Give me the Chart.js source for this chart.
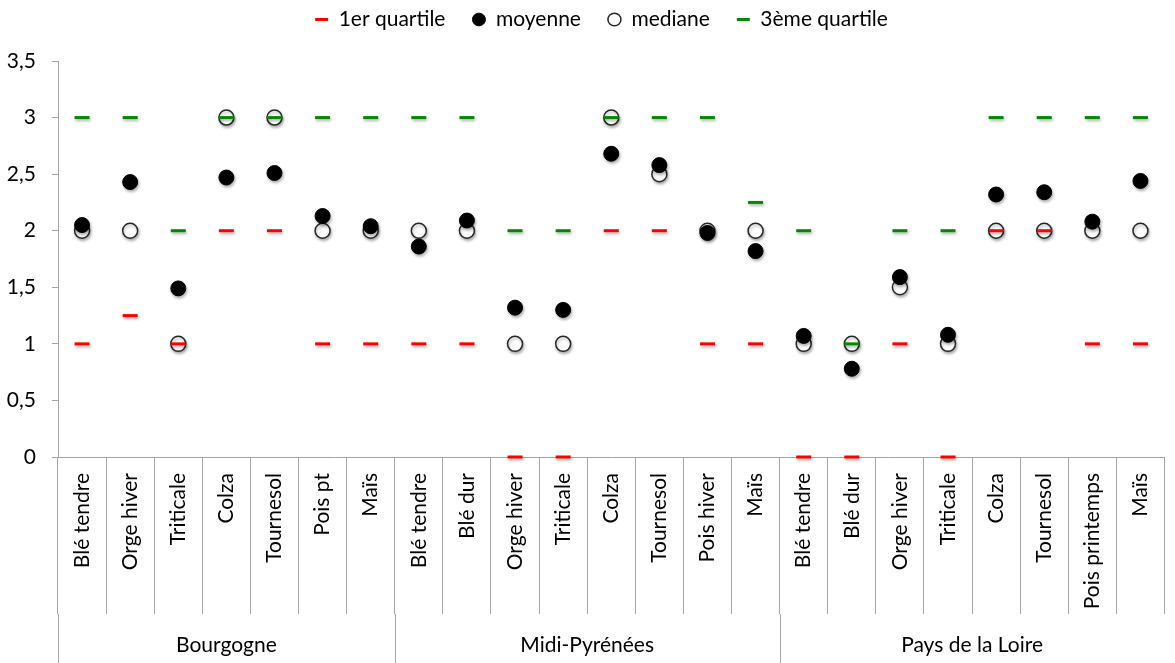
<!DOCTYPE html>
<html>
<head>
<meta charset="utf-8">
<script src="https://cdn.jsdelivr.net/npm/chart.js@4"></script>
<style>
  body { margin: 0; background: #fff; }
  canvas { display: block; }
</style>
</head>
<body>
<canvas id="quartileChart" width="1175" height="663"></canvas>
<script>
// categories and regions
const categories = [
    'Blé tendre', 'Orge hiver', 'Triticale', 'Colza', 'Tournesol', 'Pois pt', 'Maïs',
    'Blé tendre', 'Blé dur', 'Orge hiver', 'Triticale', 'Colza', 'Tournesol', 'Pois hiver', 'Maïs',
    'Blé tendre', 'Blé dur', 'Orge hiver', 'Triticale', 'Colza', 'Tournesol', 'Pois printemps', 'Maïs'
];
const groups = ['Bourgogne', 'Midi-Pyrénées', 'Pays de la Loire'];
const groupSizes = [7, 8, 8];

// series values
const q1 = [1, 1.25, 1, 2, 2, 1, 1, 1, 1, 0, 0, 2, 2, 1, 1, 0, 0, 1, 0, 2, 2, 1, 1];
const moyenne = [2.05, 2.43, 1.49, 2.47, 2.51, 2.13, 2.04, 1.86, 2.09, 1.32, 1.30, 2.68, 2.58, 1.98, 1.82, 1.07, 0.78, 1.59, 1.08, 2.32, 2.34, 2.08, 2.44];
const mediane = [2, 2, 1, 3, 3, 2, 2, 2, 2, 1, 1, 3, 2.5, 2, 2, 1, 1, 1.5, 1, 2, 2, 2, 2];
const q3 = [3, 3, 2, 3, 3, 3, 3, 3, 3, 2, 2, 3, 3, 3, 2.25, 2, 1, 2, 2, 3, 3, 3, 3];

const FONT = 'Lato';
const AXIS_GREY = '#a6a6a6';

const shadowPlugin = {
    id: 'markShadow',
    beforeDatasetDraw(chart) {
        const ctx = chart.ctx;
        ctx.save();
        ctx.shadowColor = 'rgba(0,0,0,0.3)';
        ctx.shadowBlur = 3;
        ctx.shadowOffsetX = 1;
        ctx.shadowOffsetY = 2;
    },
    afterDatasetDraw(chart) {
        chart.ctx.restore();
    }
};

// legend: a bit more room under it, and nudged right like the original
const legendTweak = {
    id: 'legendTweak',
    beforeInit(chart) {
        const legend = chart.legend;
        if (!legend) return;
        const fit = legend.fit;
        const draw = legend.draw;
        legend.fit = function() {
            fit.call(this);
            this.height += 21;
        };
        legend.draw = function() {
            const c = this.ctx;
            c.save();
            c.translate(14, 0);
            draw.call(this);
            c.restore();
        };
    }
};

// region separators + region names under the category labels
const groupPlugin = {
    id: 'groupAxis',
    afterDraw(chart) {
        const ctx = chart.ctx;
        const x = chart.scales.x;
        const step = x.getPixelForValue(1) - x.getPixelForValue(0);
        const edge = i => x.getPixelForValue(i) - step / 2;
        const top = chart.chartArea.bottom + 157;
        const bottom = chart.height;
        ctx.save();
        ctx.strokeStyle = AXIS_GREY;
        ctx.lineWidth = 1;
        ctx.fillStyle = '#000';
        ctx.font = '21px ' + FONT;
        ctx.textAlign = 'center';
        ctx.textBaseline = 'middle';
        let start = 0;
        groups.forEach((name, g) => {
            const end = start + groupSizes[g];
            const x0 = Math.round(edge(start)) + 0.5;
            ctx.beginPath();
            ctx.moveTo(x0, top);
            ctx.lineTo(x0, bottom);
            ctx.stroke();
            const x1 = Math.min(edge(end), chart.width);
            ctx.fillText(name, (edge(start) + x1) / 2, bottom - 18);
            start = end;
        });
        ctx.restore();
    }
};

const ctx = document.getElementById('quartileChart').getContext('2d');
const chart = new Chart(ctx, {
    type: 'line',
    data: {
        labels: categories,
        datasets: [{
            label: '1er quartile',
            data: q1,
            pointStyle: 'line',
            pointRadius: 7.5,
            pointBorderWidth: 3,
            borderColor: '#ff0000',
            backgroundColor: '#ff0000',
            borderWidth: 3,
            order: 0
        }, {
            label: 'moyenne',
            data: moyenne,
            pointStyle: 'circle',
            pointRadius: 7.5,
            pointBorderWidth: 1,
            borderColor: '#000',
            backgroundColor: '#000',
            borderWidth: 1,
            order: 1
        }, {
            label: 'mediane',
            data: mediane,
            pointStyle: 'circle',
            pointRadius: 7.5,
            pointBorderWidth: 1.5,
            borderColor: '#262626',
            backgroundColor: '#fff',
            borderWidth: 1.5,
            order: 2
        }, {
            label: '3ème quartile',
            data: q3,
            pointStyle: 'line',
            pointRadius: 7.5,
            pointBorderWidth: 3,
            borderColor: '#008a00',
            backgroundColor: '#008a00',
            borderWidth: 3,
            order: 0
        }]
    },
    options: {
        responsive: false,
        animation: false,
        showLine: false,
        clip: false,
        layout: { padding: { left: 0, right: 0, top: -18, bottom: 0 } },
        plugins: {
            legend: {
                position: 'top',
                labels: {
                    usePointStyle: true,
                    boxWidth: 13,
                    boxHeight: 9,
                    pointStyleWidth: 13,
                    padding: 27,
                    color: '#000',
                    font: { family: FONT, size: 21 },
                    sort: (a, b) => a.datasetIndex - b.datasetIndex
                }
            },
            tooltip: { enabled: false }
        },
        scales: {
            x: {
                offset: true,
                grid: {
                    offset: true,
                    drawOnChartArea: false,
                    drawTicks: true,
                    tickLength: 157,
                    color: AXIS_GREY
                },
                border: { color: AXIS_GREY },
                ticks: {
                    autoSkip: false,
                    maxRotation: 90,
                    minRotation: 90,
                    padding: -141,
                    color: '#000',
                    font: { family: FONT, size: 21 }
                },
                afterFit: scale => { scale.height = 206; }
            },
            y: {
                min: 0,
                max: 3.5,
                grid: {
                    drawOnChartArea: false,
                    drawTicks: true,
                    tickLength: 6,
                    color: AXIS_GREY
                },
                border: { color: AXIS_GREY },
                ticks: {
                    stepSize: 0.5,
                    padding: 16,
                    color: '#000',
                    font: { family: FONT, size: 21 },
                    callback: v => String(v).replace('.', ',')
                },
                afterFit: scale => { scale.width = 58; }
            }
        }
    },
    plugins: [shadowPlugin, legendTweak, groupPlugin]
});
</script>
</body>
</html>
